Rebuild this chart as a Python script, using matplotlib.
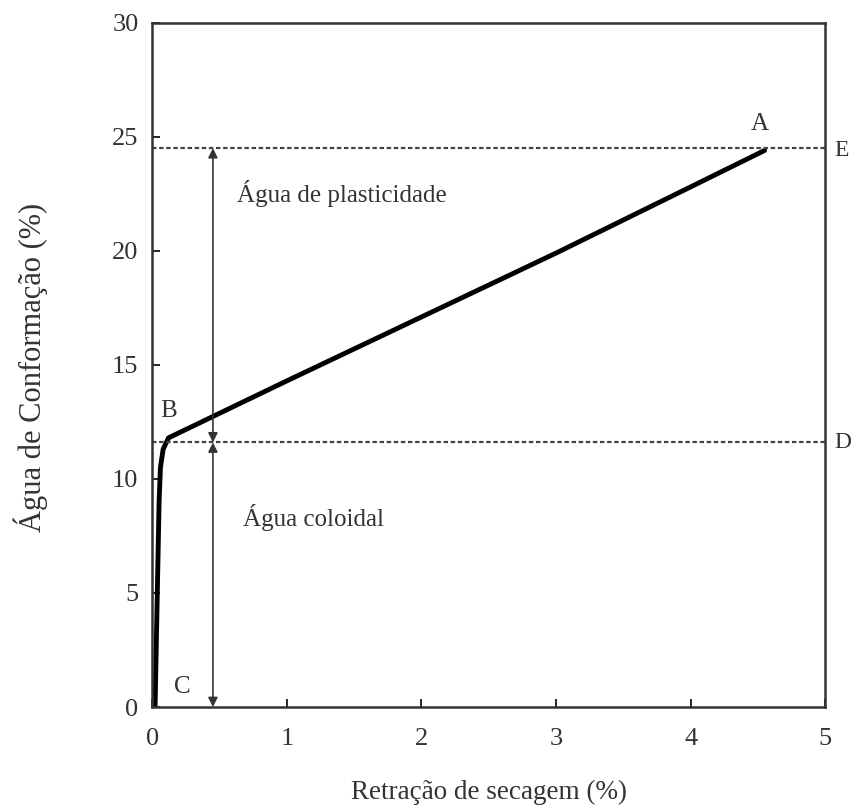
import matplotlib.pyplot as plt

plt.rcParams['font.family'] = ['Liberation Serif', 'DejaVu Serif']

# curva de secagem (retração x água)
retracao = [0.02, 0.03, 0.04, 0.05, 0.06, 0.08, 0.12, 1.0, 2.0, 3.0, 4.0, 4.55]
agua = [0.0, 3.0, 6.0, 9.0, 10.5, 11.3, 11.8, 14.3, 17.1, 19.9, 22.8, 24.4]

nivel_plast = 24.5   # linha A-E
nivel_coloidal = 11.6  # linha B-D
x_seta = 0.45

xticks = [0, 1, 2, 3, 4, 5]
yticks = [0, 5, 10, 15, 20, 25, 30]

fig = plt.figure(figsize=(8.56, 8.09), dpi=100)
ax = fig.add_axes([0.178, 0.126, 0.786, 0.846])

ax.plot(retracao, agua, color='black', lw=3.5, solid_capstyle='round')

ax.axhline(nivel_plast, color='#444444', lw=1.6, ls=(0, (2, 1.2)))
ax.axhline(nivel_coloidal, color='#444444', lw=1.6, ls=(0, (2, 1.2)))

ax.annotate('', xy=(x_seta, nivel_plast), xytext=(x_seta, nivel_coloidal),
            arrowprops=dict(arrowstyle='<|-|>', color='#333333', lw=1.2,
                            mutation_scale=14, shrinkA=0, shrinkB=0))
ax.annotate('', xy=(x_seta, nivel_coloidal), xytext=(x_seta, 0),
            arrowprops=dict(arrowstyle='<|-|>', color='#333333', lw=1.2,
                            mutation_scale=14, shrinkA=0, shrinkB=0))

ax.text(4.45, 25.3, 'A', fontsize=18, color='#333333')
ax.text(0.06, 12.7, 'B', fontsize=18, color='#333333')
ax.text(0.16, 0.6, 'C', fontsize=18, color='#333333')
ax.text(5.07, nivel_coloidal, 'D', fontsize=17, color='#333333', va='center', clip_on=False)
ax.text(5.07, nivel_plast - 0.1, 'E', fontsize=17, color='#333333', va='center', clip_on=False)

ax.text(0.63, 22.5, 'Água de plasticidade', fontsize=18, color='#333333', va='center')
ax.text(0.67, 8.3, 'Água coloidal', fontsize=18, color='#333333', va='center')

ax.set_xlim(0, 5)
ax.set_ylim(0, 30)
ax.set_xticks(xticks)
ax.set_yticks(yticks)
ax.tick_params(direction='in', length=6, width=1.2, labelsize=19,
               labelcolor='#333333')
ax.tick_params(axis='x', pad=15)
ax.tick_params(axis='y', pad=10)
for s in ax.spines.values():
    s.set_linewidth(1.8)
    s.set_color('#333333')

ax.set_xlabel('Retração de secagem (%)', fontsize=19.5, color='#333333')
ax.xaxis.set_label_coords(0.5, -0.107)
ax.set_ylabel('Água de Conformação (%)', fontsize=22, color='#333333', va='center')
ax.yaxis.set_label_coords(-0.181, 0.496)

fig.savefig('out.png', dpi=100)
